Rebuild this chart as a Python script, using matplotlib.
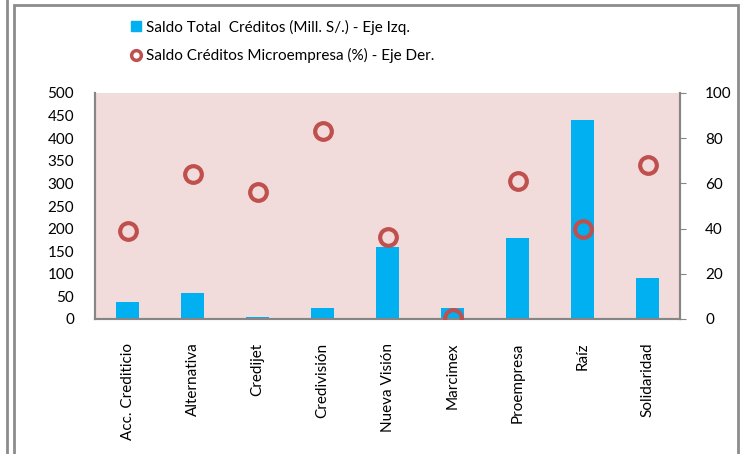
import numpy as np
import matplotlib.pyplot as plt
from matplotlib.lines import Line2D
from matplotlib.patches import Rectangle

# Datos
entidades = ["Acc. Crediticio", "Alternativa", "Credijet", "Credivisión", "Nueva Visión",
             "Marcimex", "Proempresa", "Raíz", "Solidaridad"]
saldo_total = [38, 58, 5, 24, 160, 24, 180, 440, 91]
pct_micro = [39, 64, 56, 83, 36.5, 0.5, 61, 40, 68]

plt.rcParams['font.family'] = ['Lato', 'DejaVu Sans']

fig = plt.figure(figsize=(7.42, 4.54), dpi=100)
ax = fig.add_axes([95/742, 1 - 319/454, 585/742, 226/454])
ax2 = ax.twinx()

x = np.arange(len(entidades))
ax.bar(x, saldo_total, width=0.34, color='#00B0F0', zorder=2)
ax.set_facecolor('#F2DCDB')
ax.set_xlim(-0.5, len(entidades) - 0.5)
ax.set_ylim(0, 500)
ax.set_yticks(range(0, 501, 50))
ax.set_xticks(x)
ax.set_xticklabels(entidades, rotation=90, fontsize=11)
ax.tick_params(axis='x', length=0, pad=17)
ax.tick_params(axis='y', length=0, pad=15, labelsize=11)

ax2.plot(x, pct_micro, linestyle='none', marker='o', markersize=12,
         markerfacecolor='none', markeredgecolor='#C0504D', markeredgewidth=3, zorder=3)
ax2.set_ylim(0, 100)
ax2.set_yticks(range(0, 101, 20))
ax2.tick_params(axis='y', length=4, color='#868686', pad=14, labelsize=11)

for a in (ax, ax2):
    a.spines['top'].set_visible(False)
    for s in ('left', 'right', 'bottom'):
        a.spines[s].set_color('#868686')
        a.spines[s].set_linewidth(1.5)

# Leyenda
handles = [
    Line2D([], [], linestyle='none', marker='s', markersize=7, color='#00B0F0'),
    Line2D([], [], linestyle='none', marker='o', markersize=7, markerfacecolor='none',
           markeredgecolor='#C0504D', markeredgewidth=2.5),
]
labels = ["Saldo Total  Créditos (Mill. S/.) - Eje Izq.",
          "Saldo Créditos Microempresa (%) - Eje Der."]
fig.legend(handles, labels, loc='upper left', bbox_to_anchor=(118/742, 1 - 6/454),
           frameon=False, fontsize=11, handlelength=0.6, handletextpad=0.3,
           labelspacing=0.85)

# Marco
fig.add_artist(Rectangle((14/742, -0.05), 724/742, 1.05 - 5/454, transform=fig.transFigure,
                         fill=False, edgecolor='#8c8c8c', linewidth=2))
fig.add_artist(Line2D([7/742, 7/742], [0, 1], transform=fig.transFigure,
                      color='#8c8c8c', linewidth=2))

fig.savefig('out.png', dpi=100)
